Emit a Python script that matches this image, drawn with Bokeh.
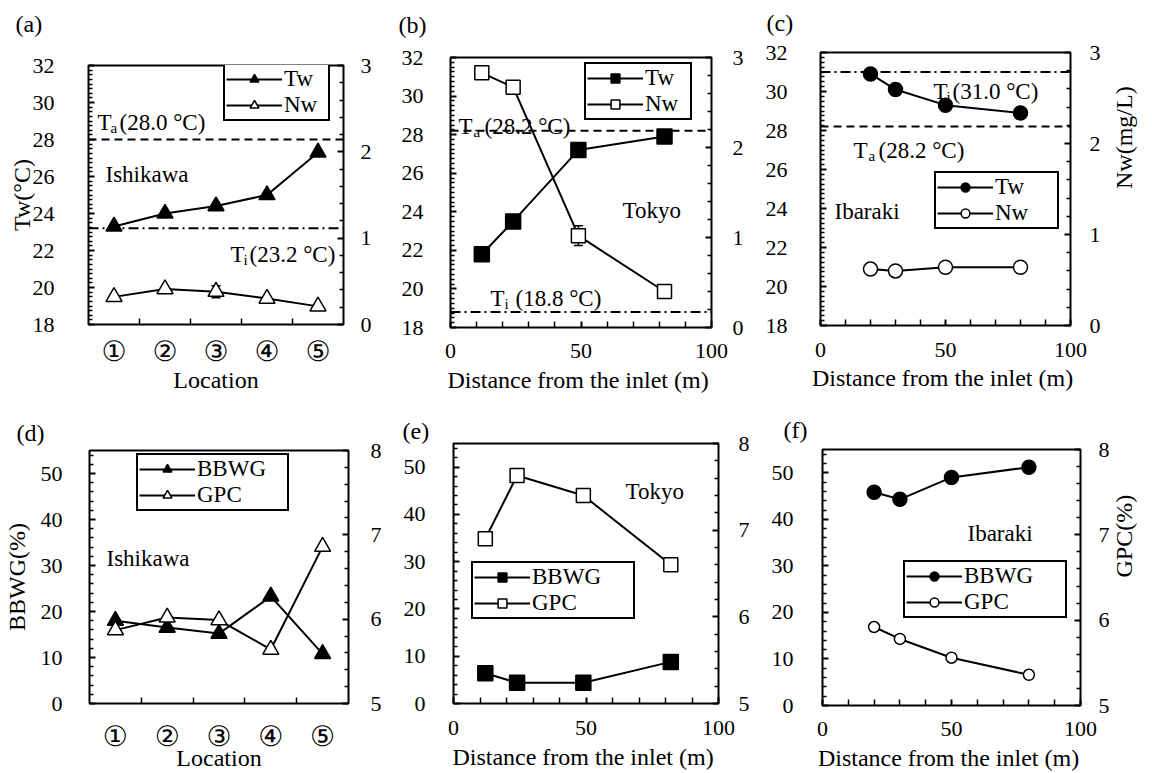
import numpy as np
from bokeh.plotting import figure
from bokeh.models import (Range1d, LinearAxis, FixedTicker, Span, Label, Legend,
                          LegendItem, Title)
from bokeh.layouts import row, column
from bokeh.embed import file_html
from bokeh.resources import INLINE

FONT = "Liberation Serif"

# ---------------- data ----------------
loc_x = [1, 2, 3, 4, 5]
loc_labels = ["①", "②", "③", "④", "⑤"]

a_tw = [23.3, 24.0, 24.4, 25.0, 27.3]
a_nw = [0.32, 0.41, 0.38, 0.30, 0.21]
a_nw_err = [0, 0, 0.07, 0, 0]
a_ta, a_ti = 28.0, 23.2

b_x = [12, 24, 49, 82]
b_tw = [21.8, 23.5, 27.2, 27.9]
b_nw = [2.83, 2.67, 1.02, 0.40]
b_nw_err = [0, 0, 0.11, 0]
b_ta, b_ti = 28.2, 18.8

c_x = [20, 30, 50, 80]
c_tw = [30.9, 30.1, 29.3, 28.9]
c_nw = [0.62, 0.60, 0.64, 0.64]
c_ta, c_ti = 28.2, 31.0

d_bbwg = [18.0, 16.5, 15.2, 23.3, 10.8]
d_gpc = [5.87, 6.02, 5.99, 5.64, 6.86]

e_x = [12, 24, 49, 82]
e_bbwg = [6.4, 4.4, 4.4, 8.8]
e_gpc = [6.90, 7.63, 7.40, 6.60]

f_x = [20, 30, 50, 80]
f_bbwg = [45.8, 44.3, 49.0, 51.2]
f_gpc = [5.92, 5.78, 5.56, 5.36]

dist_ticks = [0, 50, 100]
dist_minor = [10, 20, 30, 40, 60, 70, 80, 90]
tw_ticks = list(range(18, 33, 2))
nw_ticks = [0, 1, 2, 3]
pct_ticks = [0, 10, 20, 30, 40, 50]
gpc_ticks = [5, 6, 7, 8]

TICK_PX = 22
TITLE_PX = 24
LEG_H = 57


def minor_list(lo, hi, step, majors):
    vals = np.round(np.arange(lo, hi + 1e-9, step), 4)
    return [float(v) for v in vals if not any(abs(v - m) < 1e-6 for m in majors)]


def style_axis(ax, ticks, minor, standoff, size=TICK_PX, font=FONT, major_in=6, minor_in=4,
               overrides=None, label=None, label_standoff=0, label_orient=None):
    ax.ticker = FixedTicker(ticks=ticks, minor_ticks=minor)
    ax.axis_line_color = None
    ax.major_tick_in = major_in
    ax.major_tick_out = 0
    ax.minor_tick_in = minor_in
    ax.minor_tick_out = 0
    ax.major_tick_line_width = 2
    ax.minor_tick_line_width = 1.5
    ax.major_tick_line_color = "black"
    ax.minor_tick_line_color = "black"
    ax.major_label_text_font = font
    ax.major_label_text_font_size = f"{size}px"
    ax.major_label_text_color = "black"
    ax.major_label_standoff = standoff
    if overrides:
        ax.major_label_overrides = overrides
    if label:
        ax.axis_label = label
        ax.axis_label_text_font = FONT
        ax.axis_label_text_font_size = f"{TITLE_PX}px"
        ax.axis_label_text_font_style = "normal"
        ax.axis_label_text_color = "black"
        ax.axis_label_standoff = label_standoff
        if label_orient is not None:
            ax.axis_label_orientation = label_orient


def make_panel(fig_box, frame, xr, yr, y2r):
    ox, oy, W, H = fig_box
    fl, ft, fr, fb = frame
    p = figure(width=W, height=H, x_range=Range1d(*xr), y_range=Range1d(*yr),
               min_border_left=fl - ox, min_border_right=ox + W - fr,
               min_border_top=ft - oy, min_border_bottom=oy + H - fb,
               output_backend="svg", toolbar_location=None, tools="", title=None,
               background_fill_color="white", border_fill_color="white",
               outline_line_color="black", outline_line_width=2)
    p.frame_align = False
    p.xgrid.visible = False
    p.ygrid.visible = False
    p.extra_y_ranges = {"y2": Range1d(*y2r)}
    ax2 = LinearAxis(y_range_name="y2")
    p.add_layout(ax2, "right")
    return p, ax2


def txt(p, frame, s, X, Y, size=23):
    fl, ft, fr, fb = frame
    p.add_layout(Label(x=X - fl, y=fb - Y, x_units="screen", y_units="screen", text=s,
                       text_font=FONT, text_font_size=f"{size}px", text_align="left",
                       text_baseline="alphabetic", text_color="black"))


def sub_txt(p, frame, main, sub, rest, X, Y, sub_dx, rest_dx):
    txt(p, frame, main, X, Y)
    txt(p, frame, sub, X + sub_dx, Y + 5, size=15)
    txt(p, frame, rest, X + rest_dx, Y)


def panel_title(p, frame, s, X, base_y):
    # spacer panel between frame and the panel letter, then the letter itself
    fl, ft = frame[0], frame[1]
    gap = ft - (base_y + 5)
    if gap > 4:
        p.add_layout(Title(text=" ", text_font_size="1px", standoff=int(gap - 3)), "above")
    p.add_layout(Title(text=s, align="left", offset=X - fl, standoff=0, vertical_align="bottom",
                       text_font=FONT, text_font_size="24px", text_font_style="normal",
                       text_color="black"), "above")


def add_legend(p, frame, items, box, pad=1, gw=56):
    fl, ft, fr, fb = frame
    bl, bt, br, bb = box
    Wb = br - bl
    leg = Legend(items=items, location=(bl - fl, fb - bt - LEG_H), padding=pad, spacing=0, margin=0,
                 glyph_width=gw, glyph_height=22, label_height=22,
                 label_width=Wb - 2 * pad - gw - 4, label_standoff=2,
                 border_line_color="black", border_line_width=2, border_line_alpha=1.0,
                 background_fill_color="white", background_fill_alpha=1.0,
                 label_text_font=FONT, label_text_font_size="23px", label_text_color="black")
    p.add_layout(leg)


def series(p, x, y, marker, size, fill, y_range_name="default"):
    l = p.line(x, y, line_color="black", line_width=2, y_range_name=y_range_name)
    s = p.scatter(x, y, marker=marker, size=size, fill_color=fill, line_color="black",
                  line_width=1.5, y_range_name=y_range_name)
    return [l, s]


def errbars(p, x, y, err, y_range_name):
    xs = [xv for xv, e in zip(x, err) if e > 0]
    lo = [yv - e for yv, e in zip(y, err) if e > 0]
    hi = [yv + e for yv, e in zip(y, err) if e > 0]
    p.segment(xs, lo, xs, hi, line_color="black", line_width=1.5, y_range_name=y_range_name)
    p.scatter(xs, hi, marker="dash", size=9, line_color="black", line_width=1.5, y_range_name=y_range_name)
    p.scatter(xs, lo, marker="dash", size=9, line_color="black", line_width=1.5, y_range_name=y_range_name)


def hlines(p, ta, ti):
    p.add_layout(Span(location=ta, dimension="width", line_color="black", line_width=2, line_dash="8 5"))
    p.add_layout(Span(location=ti, dimension="width", line_color="black", line_width=2, line_dash="10 4 2 4"))


circ = {k: v for k, v in zip(loc_x, loc_labels)}

# ---------------- (a) ----------------
FA = (88, 65, 343, 327)
pa, pa2 = make_panel((0, 0, 395, 395), FA, (0.5, 5.5), (18, 32), (0, 3))
style_axis(pa.xaxis[0], loc_x, [1.5, 2.5, 3.5, 4.5], 10, size=28, font="DejaVu Sans",
           major_in=0, minor_in=6, overrides=circ, label="Location", label_standoff=-4)
style_axis(pa.yaxis[0], tw_ticks, minor_list(18, 32, 0.25, tw_ticks), 34, label="Tw(°C)",
           label_standoff=-5)
style_axis(pa2, nw_ticks, minor_list(0, 3, 0.2, nw_ticks), 17)
hlines(pa, a_ta, a_ti)
errbars(pa, loc_x, a_nw, a_nw_err, "y2")
ra1 = series(pa, loc_x, a_tw, "triangle", 16, "black")
ra2 = series(pa, loc_x, a_nw, "triangle", 16, "white", "y2")
add_legend(pa, FA, [LegendItem(label="Tw", renderers=ra1), LegendItem(label="Nw", renderers=ra2)],
           (223, 67, 328, 123))
sub_txt(pa, FA, "T", "a", "(28.0 °C)", 97, 125, 13, 22)
sub_txt(pa, FA, "T", "i", "(23.2 °C)", 230, 257, 13, 19)
txt(pa, FA, "Ishikawa", 105, 177)
panel_title(pa, FA, "(a)", 15, 31)

# ---------------- (b) ----------------
FB = (450, 57, 711, 327)
pb, pb2 = make_panel((395, 0, 367, 395), FB, (0, 100), (18, 32), (0, 3))
style_axis(pb.xaxis[0], dist_ticks, dist_minor, 16, minor_in=6,
           label="Distance from the inlet  (m)", label_standoff=6)
style_axis(pb.yaxis[0], tw_ticks, minor_list(18, 32, 0.25, tw_ticks), 27)
style_axis(pb2, nw_ticks, minor_list(0, 3, 0.2, nw_ticks), 21)
hlines(pb, b_ta, b_ti)
errbars(pb, b_x, b_nw, b_nw_err, "y2")
rb1 = series(pb, b_x, b_tw, "square", 15, "black")
rb2 = series(pb, b_x, b_nw, "square", 14, "white", "y2")
add_legend(pb, FB, [LegendItem(label="Tw", renderers=rb1), LegendItem(label="Nw", renderers=rb2)],
           (584, 63, 690, 118))
sub_txt(pb, FB, "T", "a", "(28.2 °C)", 458, 126, 15, 26)
sub_txt(pb, FB, "T", "i", "(18.8 °C)", 490, 298, 14, 25)
txt(pb, FB, "Tokyo", 622, 210)
panel_title(pb, FB, "(b)", 398, 32)

# ---------------- (c) ----------------
FC = (819, 52, 1073, 325)
pc, pc2 = make_panel((762, 0, 390, 395), FC, (0, 100), (18, 32), (0, 3))
style_axis(pc.xaxis[0], dist_ticks, dist_minor, 17, minor_in=6,
           label="Distance from the inlet  (m)", label_standoff=5)
style_axis(pc.yaxis[0], tw_ticks, minor_list(18, 32, 0.25, tw_ticks), 33)
style_axis(pc2, nw_ticks, minor_list(0, 3, 0.2, nw_ticks), 19, label="Nw(mg/L)",
           label_standoff=20, label_orient=np.pi / 2)
hlines(pc, c_ta, c_ti)
rc1 = series(pc, c_x, c_tw, "circle", 14, "black")
rc2 = series(pc, c_x, c_nw, "circle", 14, "white", "y2")
add_legend(pc, FC, [LegendItem(label="Tw", renderers=rc1), LegendItem(label="Nw", renderers=rc2)],
           (933, 172, 1056, 230))
sub_txt(pc, FC, "T", "i", "(31.0 °C)", 932, 91, 13, 19)
sub_txt(pc, FC, "T", "a", "(28.2 °C)", 852, 150, 15, 25)
txt(pc, FC, "Ibaraki", 833, 211)
panel_title(pc, FC, "(c)", 765, 30)

# ---------------- (d) ----------------
FD = (88, 450, 348, 708)
pd_, pd2 = make_panel((0, 395, 395, 378), FD, (0.5, 5.5), (0, 55), (5, 8))
style_axis(pd_.xaxis[0], loc_x, [1.5, 2.5, 3.5, 4.5], 16, size=28, font="DejaVu Sans",
           major_in=0, minor_in=6, overrides=circ, label="Location", label_standoff=-11)
style_axis(pd_.yaxis[0], pct_ticks, minor_list(0, 54, 2, pct_ticks), 27, label="BBWG(%)",
           label_standoff=8)
style_axis(pd2, gpc_ticks, minor_list(5, 8, 0.2, gpc_ticks), 22)
rd1 = series(pd_, loc_x, d_bbwg, "triangle", 16, "black")
rd2 = series(pd_, loc_x, d_gpc, "triangle", 16, "white", "y2")
add_legend(pd_, FD, [LegendItem(label="BBWG", renderers=rd1), LegendItem(label="GPC", renderers=rd2)],
           (135, 459, 286, 515))
txt(pd_, FD, "Ishikawa", 105, 563)
panel_title(pd_, FD, "(d)", 15, 440)

# ---------------- (e) ----------------
FE = (453, 443, 718, 703)
pe, pe2 = make_panel((395, 395, 367, 378), FE, (0, 100), (0, 55), (5, 8))
style_axis(pe.xaxis[0], dist_ticks, dist_minor, 17, minor_in=6,
           label="Distance from the inlet  (m)", label_standoff=6)
style_axis(pe.yaxis[0], pct_ticks, minor_list(0, 54, 2, pct_ticks), 28)
style_axis(pe2, gpc_ticks, minor_list(5, 8, 0.2, gpc_ticks), 20)
re1 = series(pe, e_x, e_bbwg, "square", 15, "black")
re2 = series(pe, e_x, e_gpc, "square", 14, "white", "y2")
add_legend(pe, FE, [LegendItem(label="BBWG", renderers=re1), LegendItem(label="GPC", renderers=re2)],
           (471, 562, 633, 618))
txt(pe, FE, "Tokyo", 625, 491)
panel_title(pe, FE, "(e)", 402, 438)

# ---------------- (f) ----------------
FF = (822, 449, 1085, 707)
pf, pf2 = make_panel((762, 395, 390, 378), FF, (0, 100), (0, 55), (5, 8))
style_axis(pf.xaxis[0], dist_ticks, dist_minor, 16, minor_in=6,
           label="Distance from the inlet  (m)", label_standoff=6)
style_axis(pf.yaxis[0], pct_ticks, minor_list(0, 54, 2, pct_ticks), 29)
style_axis(pf2, gpc_ticks, minor_list(5, 8, 0.2, gpc_ticks), 18, label="GPC(%)",
           label_standoff=11, label_orient=np.pi / 2)
rf1 = series(pf, f_x, f_bbwg, "circle", 14, "black")
rf2 = series(pf, f_x, f_gpc, "circle", 11, "white", "y2")
add_legend(pf, FF, [LegendItem(label="BBWG", renderers=rf1), LegendItem(label="GPC", renderers=rf2)],
           (903, 563, 1065, 620))
txt(pf, FF, "Ibaraki", 967, 535)
panel_title(pf, FF, "(f)", 783, 437)

layout = column(row(pa, pb, pc), row(pd_, pe, pf))
open("out.html", "w").write(file_html(layout, INLINE))
